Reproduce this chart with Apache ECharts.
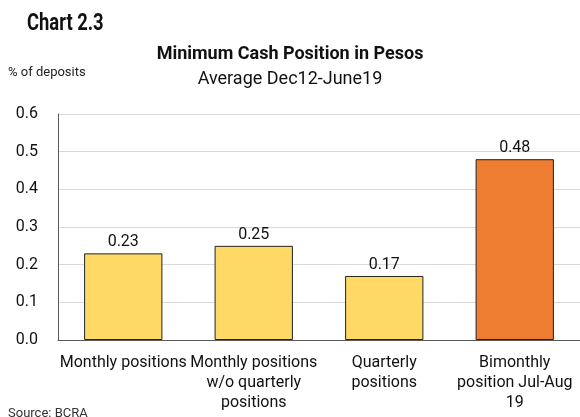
<!DOCTYPE html>
<html><head><meta charset="utf-8">
<script src="https://cdn.jsdelivr.net/npm/echarts@6/dist/echarts.min.js"></script>
<style>html,body{margin:0;padding:0;background:#fff}#c{width:580px;height:417px}</style>
</head><body><div id="c"></div>
<script>
const categories = ["Monthly positions", "Monthly positions\nw/o quarterly\npositions", "Quarterly\npositions", "Bimonthly\nposition Jul-Aug\n19"];
const values = [0.23, 0.25, 0.17, 0.48];
const barColors = ["#FFD966", "#FFD966", "#FFD966", "#ED7D31"];
const yTicks = [0, 0.1, 0.2, 0.3, 0.4, 0.5, 0.6];

const chart = echarts.init(document.getElementById('c'));
const F = 'Roboto, sans-serif';
chart.setOption({
  animation: false,
  textStyle: {fontFamily: F},
  graphic: [
    {type:'text', x: 27, y: 13, scaleX: 0.8, style:{text:'Chart 2.3', font:'bold 23px Roboto', fill:'#111'}},
    {type:'text', left: 8, top: 66, style:{text:'% of deposits', font:'13px Roboto', fill:'#222'}},
    {type:'text', left: 8, top: 407, style:{text:'Source: BCRA', font:'13px Roboto', fill:'#333'}}
  ],
  title: {
    text: 'Minimum Cash Position in Pesos',
    subtext: 'Average Dec12-June19',
    left: 285, textAlign: 'center', top: 40, itemGap: 7,
    textStyle: {fontFamily: F, fontWeight: 'bold', fontSize: 18, color: '#111'},
    subtextStyle: {fontFamily: F, fontSize: 18, color: '#111'}
  },
  grid: {left: 58, top: 114, right: -2, bottom: 77, containLabel: false},
  xAxis: {
    type: 'category', data: categories,
    axisLine: {lineStyle: {color: '#595959', width: 1}},
    axisTick: {show: false},
    axisLabel: {fontFamily: F, fontSize: 16, color: '#111', lineHeight: 20, margin: 13, interval: 0}
  },
  yAxis: {
    type: 'value', min: 0, max: 0.6, interval: 0.1,
    axisLine: {show: true, lineStyle: {color: '#595959'}},
    axisTick: {show: false},
    splitLine: {lineStyle: {color: '#d9d9d9'}},
    axisLabel: {fontFamily: F, fontSize: 16, color: '#111', margin: 20,
      formatter: v => v.toFixed(1)}
  },
  series: [{
    type: 'bar', barWidth: '60%',
    data: values.map((v, i) => ({value: v, itemStyle: {color: barColors[i]}})),
    itemStyle: {borderColor: '#222', borderWidth: 1},
    label: {show: true, position: 'top', distance: 3, fontFamily: F, fontSize: 16, color: '#111',
      formatter: p => p.value.toFixed(2)}
  }]
});
</script></body></html>
